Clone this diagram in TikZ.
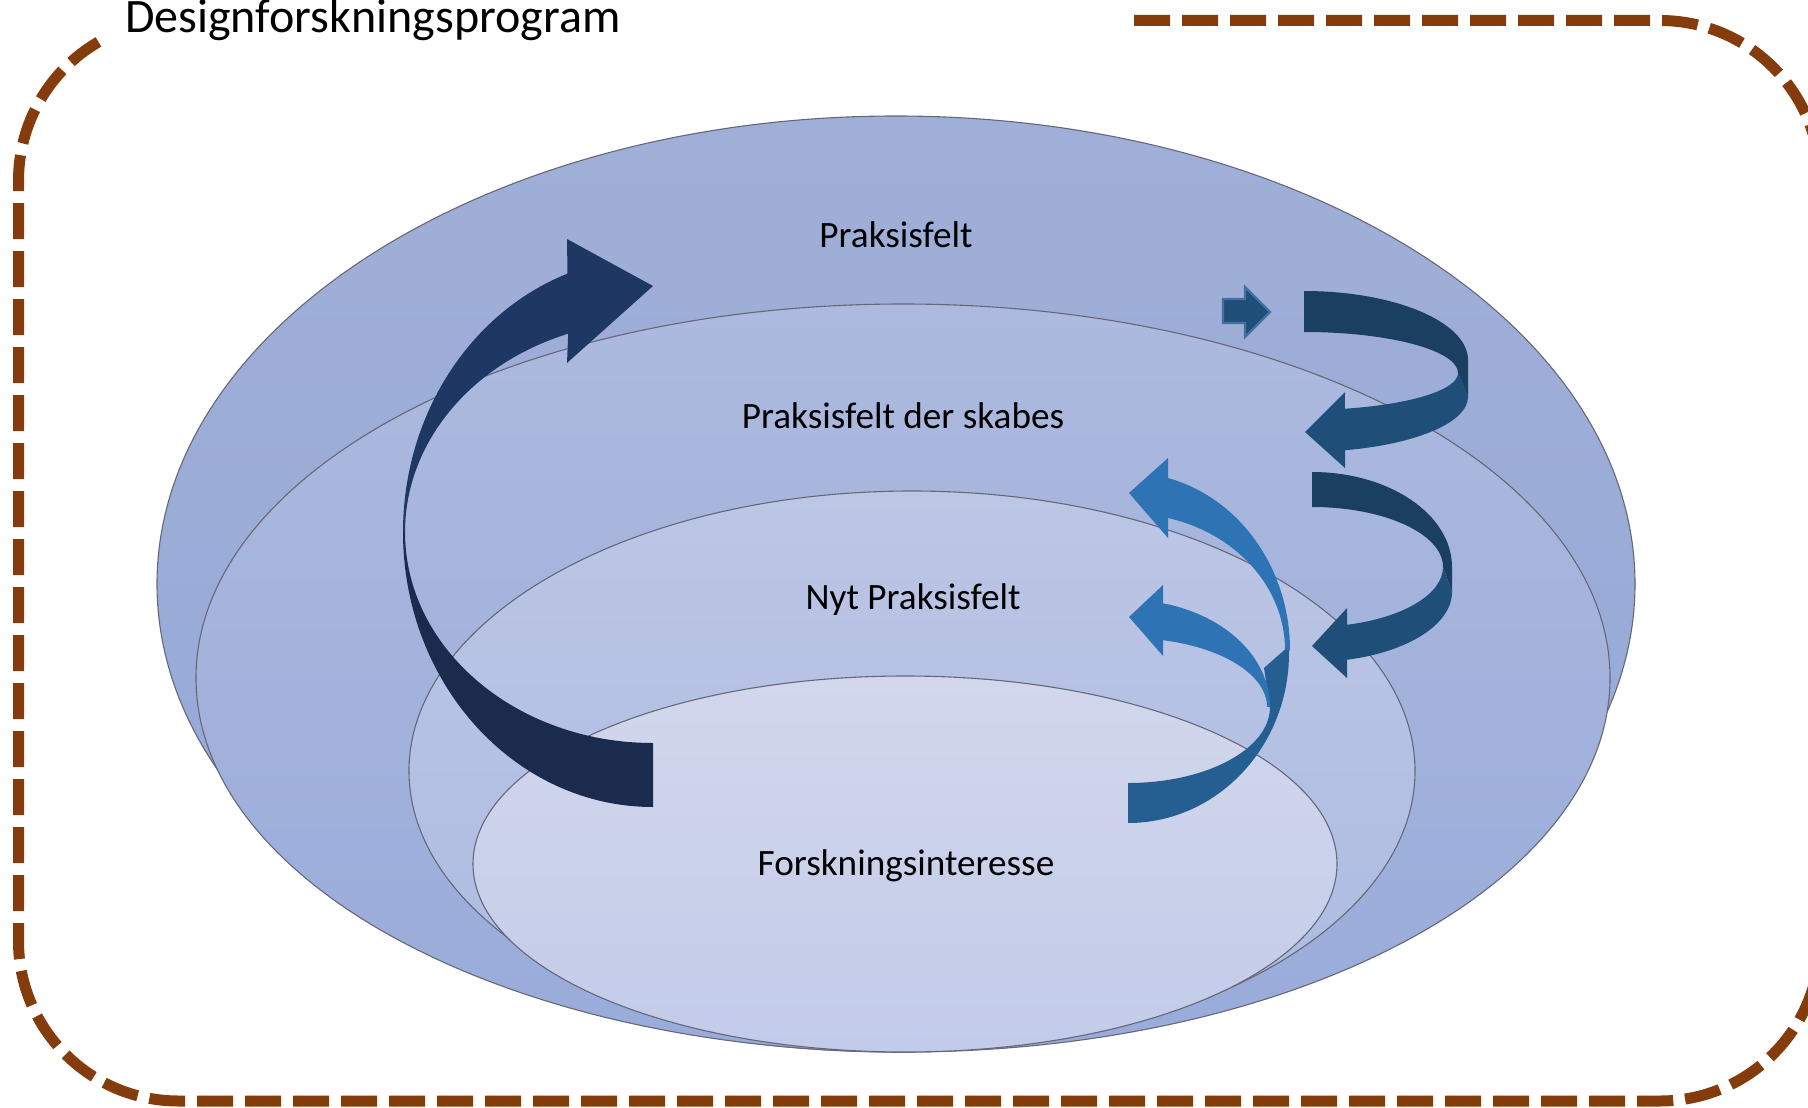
\documentclass[tikz,border=0pt]{standalone}
\usepackage{fontspec}
\setmainfont{Carlito}
\usetikzlibrary{shadings}
\definecolor{dashbrown}{HTML}{843C0C}
\definecolor{eAtop}{HTML}{A0AFD7}
\definecolor{eAbot}{HTML}{94A8D8}
\definecolor{eBtop}{HTML}{ADBADF}
\definecolor{eBbot}{HTML}{99ABD9}
\definecolor{eCtop}{HTML}{BCC6E5}
\definecolor{eCbot}{HTML}{ACBBE2}
\definecolor{eDtop}{HTML}{D2D7EC}
\definecolor{eDbot}{HTML}{C2CBE9}
\definecolor{edgegray}{HTML}{646878}
\definecolor{navyup}{HTML}{1F3863}
\definecolor{navylow}{HTML}{1B2B4D}
\definecolor{tealback}{HTML}{1B3F60}
\definecolor{tealfront}{HTML}{1F4E79}
\definecolor{bluelight}{HTML}{2E74B5}
\definecolor{bluedark}{HTML}{255E91}
\definecolor{smalledge}{HTML}{41719C}
\begin{document}
\begin{tikzpicture}[x=1pt,y=-1pt,
  ring/.style={draw=edgegray,line width=1.1pt},
  frame/.style={draw=dashbrown,line width=11pt,dash pattern=on 36pt off 12pt},
  label/.style={anchor=base,inner sep=0pt,font=\fontsize{37.2}{44}\selectfont},
  titletext/.style={anchor=base west,inner sep=0pt,font=\fontsize{48}{57}\selectfont}]
\useasboundingbox (0,0) rectangle (1808,1108);
% dashed frame
\draw[frame] (1134,20.5) -- (1660,20.5)
  arc[start angle=270,end angle=360,radius=160] -- (1820,941)
  arc[start angle=0,end angle=90,radius=160] -- (178.5,1101)
  arc[start angle=90,end angle=180,radius=160] -- (18.5,180.5)
  arc[start angle=180,end angle=240,radius=160];
\node[titletext] (title) at (125,33) {Designforskningsprogram};
% ellipses
\path[ring,top color=eAtop,bottom color=eAbot] (896,584) ellipse[x radius=739,y radius=468];
\path[ring,top color=eBtop,bottom color=eBbot] (903,678) ellipse[x radius=707,y radius=374];
\path[ring,top color=eCtop,bottom color=eCbot] (912,771) ellipse[x radius=503,y radius=280];
\path[ring,top color=eDtop,bottom color=eDbot] (905,864) ellipse[x radius=432,y radius=188];
% big left arrow
\fill[navylow] (653,807) arc[start angle=90,end angle=180,x radius=250,y radius=275]
  -- (405,532) arc[start angle=180,end angle=90,x radius=248,y radius=211] -- cycle;
\fill[navyup] (403,532) arc[start angle=180,end angle=250,x radius=250,y radius=275]
  -- (567,239) -- (653,286) -- (567,363) -- (568.2,333.7)
  arc[start angle=250,end angle=180,x radius=248,y radius=211] -- cycle;
% small arrow
\draw[smalledge,fill=tealfront,line width=2.2pt,line join=miter]
  (1223,299) -- (1245,299) -- (1245,287) -- (1270,312) -- (1245,337) -- (1245,323) -- (1223,323) -- cycle;
% right arrow 1
\fill[tealback] (1304,291) arc[start angle=270,end angle=360,x radius=164,y radius=69]
  -- (1468,397) -- (1458,373) arc[start angle=360,end angle=270,x radius=154,y radius=41] -- cycle;
\fill[tealfront] (1468,397) arc[start angle=0,end angle=75.5,x radius=164,y radius=55]
  -- (1345,468) -- (1305,432) -- (1345,392) -- (1344.9,408.7)
  arc[start angle=74.6,end angle=0,x radius=154,y radius=37] -- cycle;
% right arrow 2
\fill[tealback] (1312,472) arc[start angle=270,end angle=360,x radius=140,y radius=95]
  -- (1452,592) -- (1443,567) arc[start angle=360,end angle=270,x radius=131,y radius=60] -- cycle;
\fill[tealfront] (1452,592) arc[start angle=0,end angle=75.5,x radius=140,y radius=70]
  -- (1347,678) -- (1312,646) -- (1347,608) -- (1347,624.8)
  arc[start angle=74.5,end angle=0,x radius=131,y radius=60] -- cycle;
% blue arrows
\fill[bluedark] (1264,668) -- (1290,645) -- (1289,653)
  arc[start angle=0,end angle=90,x radius=161,y radius=170] -- (1128,783)
  arc[start angle=90,end angle=0,x radius=142,y radius=76] -- cycle;
\fill[bluelight] (1290,650) arc[start angle=0,end angle=-75.7,x radius=162,y radius=177.5]
  -- (1168,458) -- (1129,493) -- (1168,538) -- (1168,518)
  arc[start angle=-75.24,end angle=0,x radius=157,y radius=136.5] -- cycle;
\fill[bluelight] (1270,707) arc[start angle=0,end angle=-75.73,x radius=142,y radius=107]
  -- (1163,585) -- (1129,617) -- (1163,656) -- (1163,640.2)
  arc[start angle=-75.42,end angle=0,x radius=139,y radius=69] -- cycle;
% labels
\node[label] (l1) at (896,247) {Praksisfelt};
\node[label] (l2) at (903,428) {Praksisfelt der skabes};
\node[label] (l3) at (913,609) {Nyt Praksisfelt};
\node[label] (l4) at (906,875) {Forskningsinteresse};
\end{tikzpicture}
\end{document}
